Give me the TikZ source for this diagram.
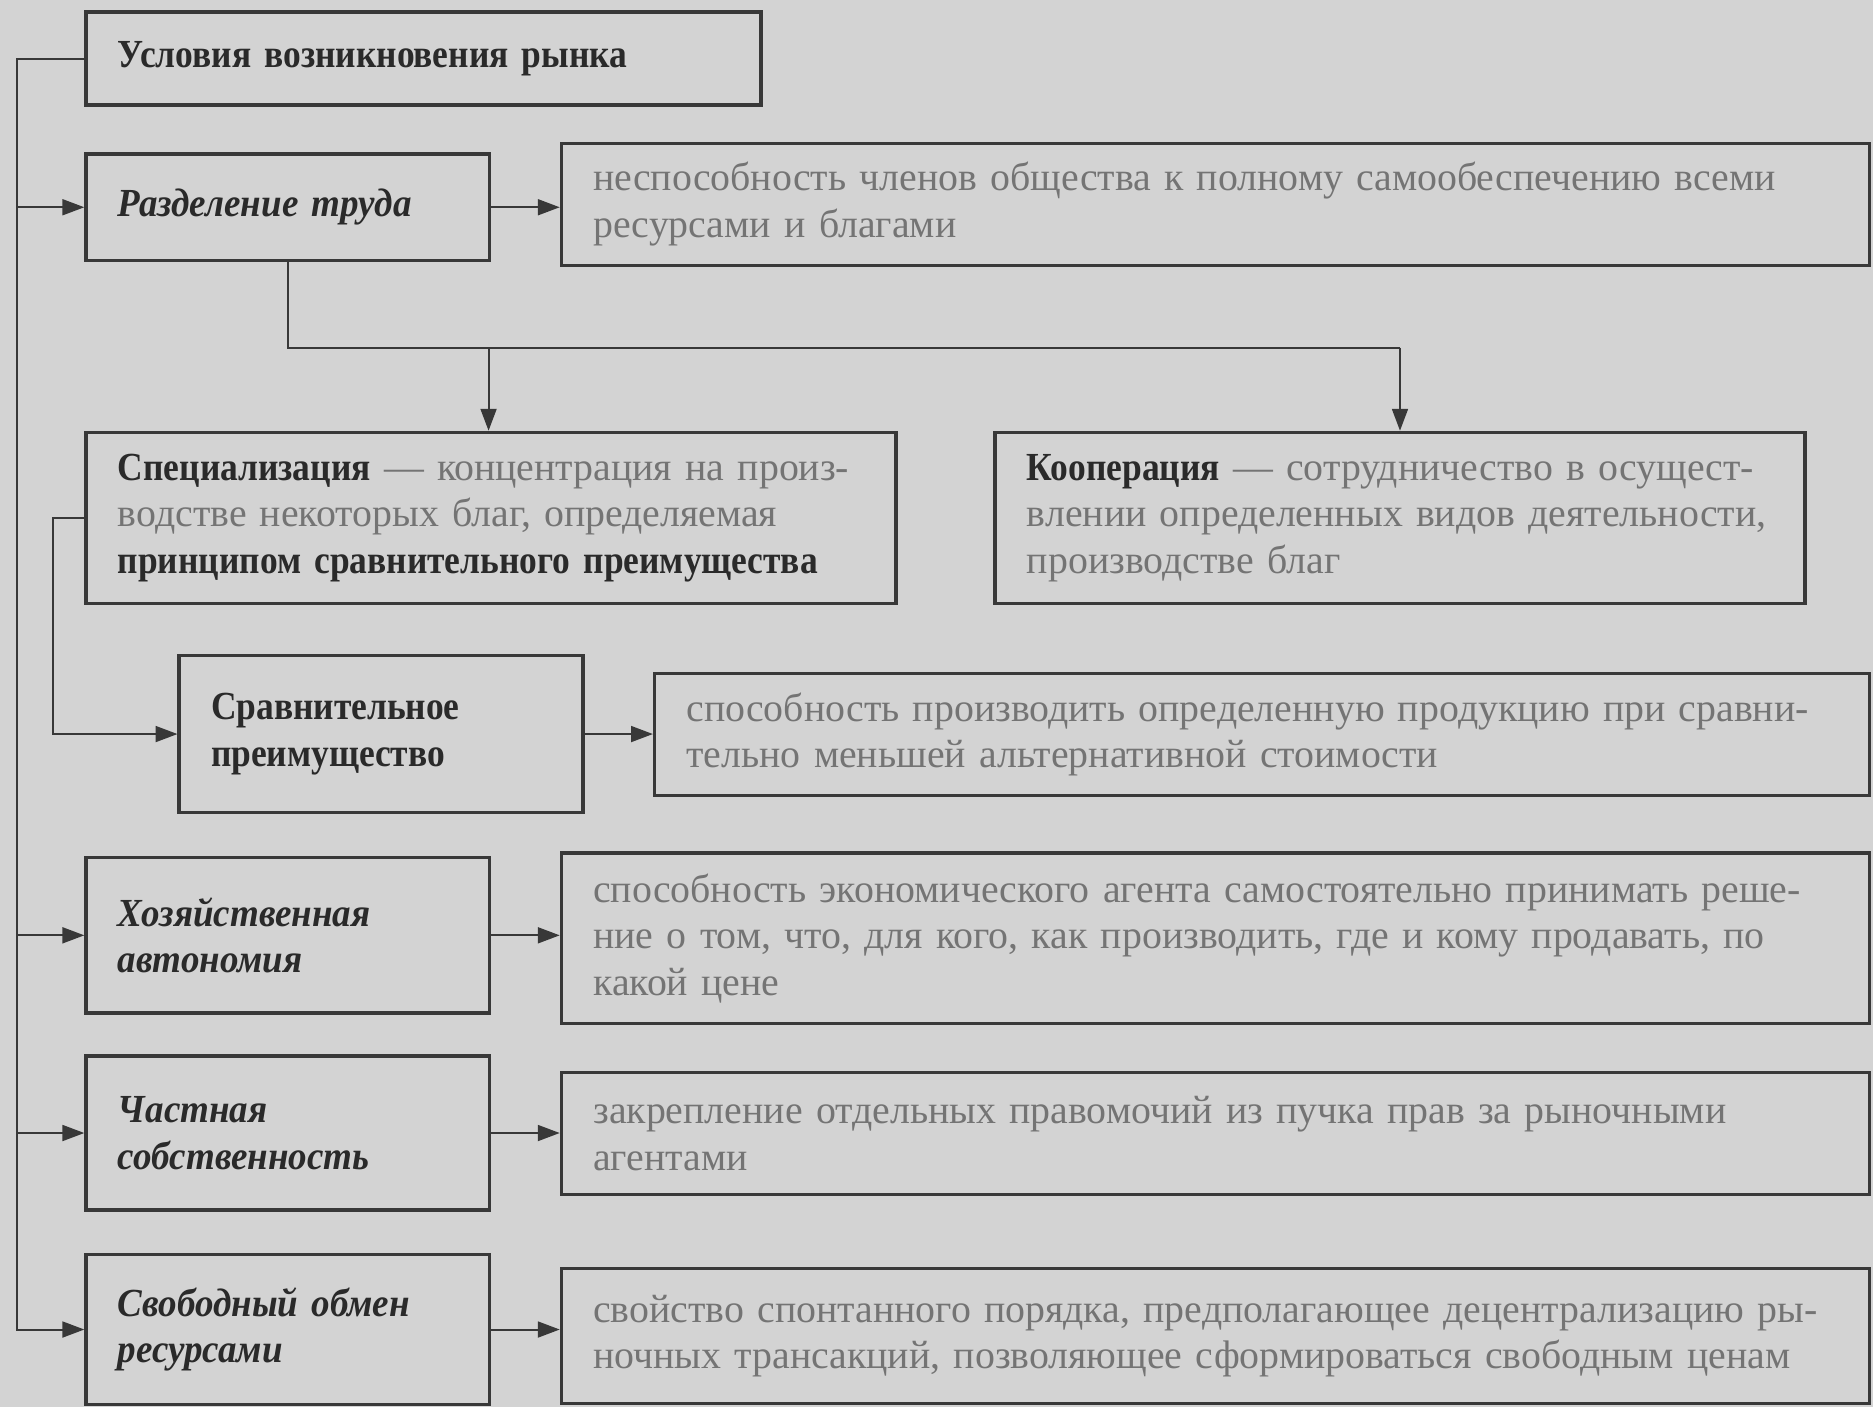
\documentclass[tikz,border=0pt]{standalone}
\usepackage{fontspec}
\setmainfont{Liberation Serif}[
  BoldFeatures={FakeStretch=0.89},
  BoldItalicFeatures={FakeStretch=0.93}]
\usetikzlibrary{arrows.meta}
\definecolor{paper}{HTML}{D3D3D3}
\definecolor{ink}{HTML}{2A2A2A}
\definecolor{note}{HTML}{747474}
\definecolor{frame}{HTML}{383838}

\tikzset{
  box/.style={draw=frame, line width=1.7pt, rectangle, inner xsep=16pt,
    inner ysep=0pt, align=left},
  head/.style={box, text=ink, font=\bfseries\fontsize{20}{23.4}\selectfont},
  desc/.style={box, text=note, font=\fontsize{20}{23.4}\selectfont},
  wh/.style n args={3}{minimum width=#1pt, minimum height=#2pt, text width=#3pt},
  link/.style={draw=frame, line width=1pt},
  arr/.style={link, -{Triangle[length=11pt,width=8pt]}}
}
\newcommand{\hd}[1]{\textcolor{ink}{\bfseries #1}}

\begin{document}
\begin{tikzpicture}[x=0.6pt,y=-0.6pt]
  \fill[paper] (0,0) rectangle (1568,1178);
  \useasboundingbox (0,0) rectangle (1568,1178);

  % heading
  \node[head, wh={339}{46.8}{307}] (A) at (354.5,49) {Условия возникновения рынка};

  % division of labour
  \node[head, wh={202.8}{53.4}{170.8}] (B) at (241,173.5) {\itshape Разделение труда};
  \node[desc, wh={657}{61.2}{625}] (B2) at (1017.5,171)
    {неспособность членов общества к полному самообеспечению всеми\\ресурсами и благами};

  % specialisation and cooperation
  \node[desc, wh={406.8}{85.8}{374.8}] (C) at (411,433.5)
    {\mbox{\hd{Специализация} — концентрация на произ-}\\
     \mbox{водстве некоторых благ, определяемая}\\
     \mbox{\hd{принципом сравнительного преимущества}}};
  \node[desc, wh={406.8}{85.8}{374.8}] (D) at (1172,433.5)
    {\mbox{\hd{Кооперация} — сотрудничество в осущест-}\\
     \mbox{влении определенных видов деятельности,}\\
     \mbox{производстве благ}};

  % comparative advantage
  \node[head, wh={202.8}{78.6}{170.8}] (E) at (319,614.5) {Сравнительное\\преимущество};
  \node[desc, wh={610.2}{61.2}{578.2}] (E2) at (1056.5,615)
    {способность производить определенную продукцию при сравни-\\тельно меньшей альтернативной стоимости};

  % economic autonomy
  \node[head, wh={202.8}{78}{170.8}] (F) at (241,783) {\itshape Хозяйственная\\\itshape автономия};
  \node[desc, wh={657}{85.8}{625}] (F2) at (1017.5,785.5)
    {способность экономического агента самостоятельно принимать реше-\\ние о том, что, для кого, как производить, где и кому продавать, по\\какой цене};

  % private property
  \node[head, wh={202.8}{77.4}{170.8}] (G) at (241,948.5) {\itshape Частная\\\itshape собственность};
  \node[desc, wh={657}{61.2}{625}] (G2) at (1017.5,949)
    {закрепление отдельных правомочий из пучка прав за рыночными\\агентами};

  % free exchange
  \node[head, wh={202.8}{75.6}{170.8}] (H) at (241,1113) {\itshape Свободный обмен\\\itshape ресурсами};
  \node[desc, wh={657}{67.8}{625}] (H2) at (1017.5,1118.5)
    {свойство спонтанного порядка, предполагающее децентрализацию ры-\\ночных трансакций, позволяющее сформироваться свободным ценам};

  % left trunk
  \coordinate (tr) at (14,0);
  \draw[arr] (A.west) -- (A.west -| tr) |- (H.west);
  \draw[arr] (B.west -| tr) -- (B.west);
  \draw[arr] (F.west -| tr) -- (F.west);
  \draw[arr] (G.west -| tr) -- (G.west);

  % split of division of labour
  \coordinate (j1) at (409,291);
  \coordinate (j2) at (1172,291);
  \draw[link] (B.south) -- (B.south |- j1) -- (j2);
  \draw[arr] (j1) -- (j1 |- C.north);
  \draw[arr] (j2) -- (D.north);

  % specialisation to comparative advantage
  \coordinate (br) at (44,0);
  \draw[arr] (C.west) -- (C.west -| br) |- (E.west);

  % explanations
  \draw[arr] (B.east) -- (B.east -| B2.west);
  \draw[arr] (E.east) -- (E.east -| E2.west);
  \draw[arr] (F.east) -- (F.east -| F2.west);
  \draw[arr] (G.east) -- (G.east -| G2.west);
  \draw[arr] (H.east) -- (H.east -| H2.west);
\end{tikzpicture}
\end{document}
